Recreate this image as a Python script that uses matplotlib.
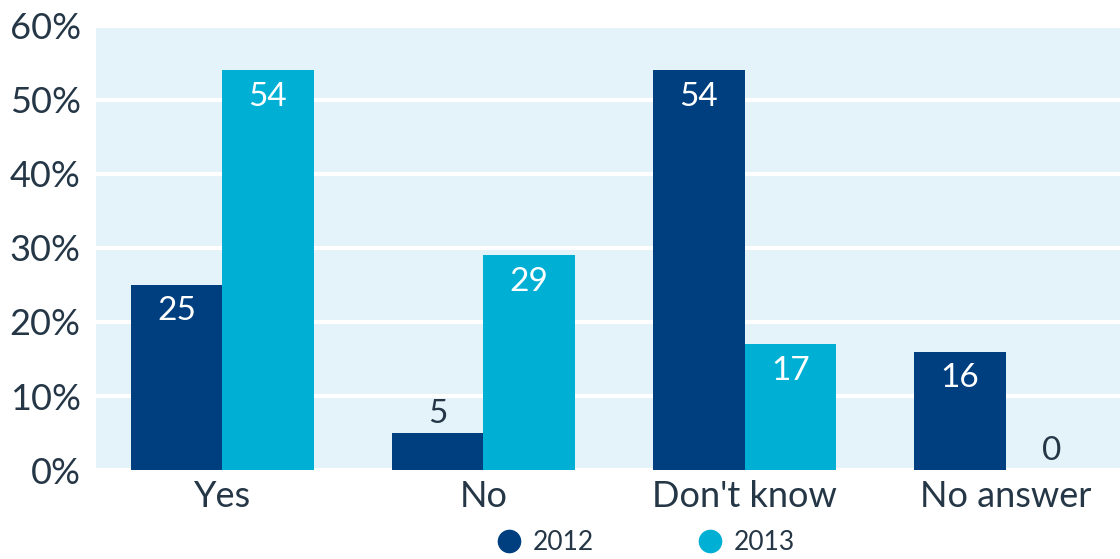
import matplotlib
matplotlib.use("Agg")
import matplotlib.pyplot as plt
import numpy as np
from matplotlib.lines import Line2D

categories = ["Yes", "No", "Don't know", "No answer"]
values_2012 = [25, 5, 54, 16]
values_2013 = [54, 29, 17, 0]
series_names = ["2012", "2013"]
y_ticks = [0, 10, 20, 30, 40, 50, 60]

COLOR_2012 = "#003F7F"
COLOR_2013 = "#00B0D4"
PANEL_BG = "#E3F3F9"
TEXT = "#253746"

plt.rcParams["font.family"] = ["Lato", "DejaVu Sans"]

fig = plt.figure(figsize=(11.2, 5.59), dpi=100)
ax = fig.add_axes([0.0857, 0.159, 0.9143, 0.795])
ax.set_facecolor(PANEL_BG)

x = np.arange(len(categories))
width = 0.35
bars_a = ax.bar(x - width / 2, values_2012, width, color=COLOR_2012, zorder=3)
bars_b = ax.bar(x + width / 2, values_2013, width, color=COLOR_2013, zorder=3)


def label_bars(bars, values):
    # white label inside the bar top, or dark label above short bars
    for bar, v in zip(bars, values):
        cx = bar.get_x() + bar.get_width() / 2
        if v >= 10:
            ax.annotate(str(v), (cx, v), xytext=(0, -19), textcoords="offset points",
                        ha="center", va="center", color="white", fontsize=24, zorder=4)
        else:
            ax.annotate(str(v), (cx, v), xytext=(0, 3), textcoords="offset points",
                        ha="center", va="bottom", color=TEXT, fontsize=24, zorder=4)


label_bars(bars_a, values_2012)
label_bars(bars_b, values_2013)

ax.set_xlim(-0.483, 3.437)
ax.set_ylim(0, 60)
ax.set_yticks(y_ticks)
ax.set_yticklabels([f"{t}%" for t in y_ticks])
ax.set_xticks(x)
ax.set_xticklabels(categories)
ax.tick_params(axis="both", length=0, labelsize=26, colors=TEXT)
ax.tick_params(axis="y", pad=11)
ax.tick_params(axis="x", pad=7)
ax.yaxis.grid(True, color="white", linewidth=3, zorder=1)
ax.set_axisbelow(True)
for s in ax.spines.values():
    s.set_visible(False)

handles = [Line2D([], [], marker="o", linestyle="", markersize=16, color=c)
           for c in (COLOR_2012, COLOR_2013)]
fig.legend(handles, series_names, loc="lower center", bbox_to_anchor=(0.575, -0.035),
           ncol=2, frameon=False, fontsize=19, labelcolor=TEXT, columnspacing=3.8,
           handletextpad=0.3, handlelength=1.2)

fig.savefig("out.png", dpi=100)
